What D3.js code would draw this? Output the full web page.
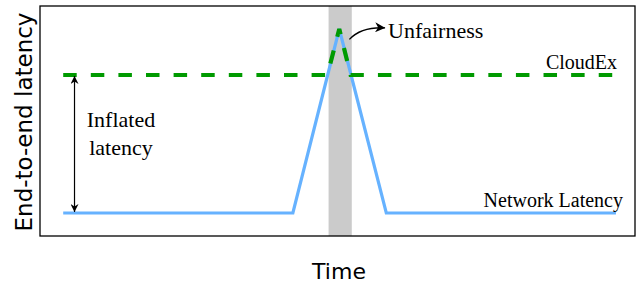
<!DOCTYPE html>
<html><head><meta charset="utf-8">
<script src="https://cdn.jsdelivr.net/npm/d3@7"></script>
<style>body{margin:0;background:#fff}svg{display:block}</style>
</head><body><svg id="c" width="639" height="285"></svg>
<script>
// Data (time units 0-100, latency units 0-100)
const networkTime = [3.9, 42.5, 50.3, 58.2, 96.8];
const networkLatency = [10, 10, 90, 10, 10];
const cloudexTime = [3.9, 48.3, 50.3, 52.2, 96.3];
const cloudexLatency = [70, 70, 90, 70, 70];
const unfairWindow = [48.5, 52.4];
const labels = {y: "End-to-end latency", x: "Time"};

const svg = d3.select("#c");
const x = d3.scaleLinear().domain([0, 100]).range([40, 635]);
const y = d3.scaleLinear().domain([0, 100]).range([236, 6]);

const defs = svg.append("defs");
defs.append("marker").attr("id","ah").attr("viewBox","0 0 10 10").attr("refX",10).attr("refY",5)
  .attr("markerWidth",8).attr("markerHeight",8).attr("markerUnits","userSpaceOnUse").attr("orient","auto-start-reverse")
  .append("path").attr("d","M0,0 L10,5 L0,10 L3,5 Z").attr("fill","#000");
defs.append("marker").attr("id","ah2").attr("viewBox","0 0 10 10").attr("refX",10).attr("refY",5)
  .attr("markerWidth",10).attr("markerHeight",10).attr("markerUnits","userSpaceOnUse").attr("orient","auto")
  .append("path").attr("d","M0,0 L10,5 L0,10 L3,5 Z").attr("fill","#000");

svg.append("rect").attr("x", x(unfairWindow[0])).attr("y", y(100))
  .attr("width", x(unfairWindow[1]) - x(unfairWindow[0])).attr("height", y(0) - y(100))
  .attr("fill", "#cbcbcb");

const line = d3.line().x(d => x(d[0])).y(d => y(d[1]));

svg.append("path").datum(networkTime.map((t,i)=>[t, networkLatency[i]]))
  .attr("d", line).attr("fill","none").attr("stroke","#66b2ff").attr("stroke-width",3.2)
  .attr("stroke-linejoin","miter");

svg.append("path").datum(cloudexTime.map((t,i)=>[t, cloudexLatency[i]]))
  .attr("d", line).attr("fill","none").attr("stroke","#009a00").attr("stroke-width",4.2)
  .attr("stroke-dasharray","13.5,14.1").attr("stroke-linejoin","miter");

svg.append("rect").attr("x", x(0)).attr("y", y(100)).attr("width", x(100)-x(0)).attr("height", y(0)-y(100))
  .attr("fill","none").attr("stroke","#000").attr("stroke-width",1.3);

svg.append("line").attr("x1", x(5.8)).attr("x2", x(5.8)).attr("y1", y(70)+1).attr("y2", y(10)-1)
  .attr("stroke","#000").attr("stroke-width",1.2)
  .attr("marker-start","url(#ah)").attr("marker-end","url(#ah)");

svg.append("path").attr("d", `M${x(52.0)},${y(85.5)} Q${x(54)},${y(91)} ${x(58.0)},${y(90.5)}`)
  .attr("fill","none").attr("stroke","#000").attr("stroke-width",1.3).attr("marker-end","url(#ah2)");

const serif = "'Liberation Serif','Times New Roman',serif";
svg.append("text").attr("x", 388).attr("y", 38).attr("font-family", serif).attr("font-size", 22).text("Unfairness");
svg.append("text").attr("x", 617).attr("y", 69).attr("text-anchor","end").attr("font-family", serif).attr("font-size", 20).text("CloudEx");
svg.append("text").attr("x", 623).attr("y", 207).attr("text-anchor","end").attr("font-family", serif).attr("font-size", 20).text("Network Latency");
svg.append("text").attr("x", 121).attr("y", 127).attr("text-anchor","middle").attr("font-family", serif).attr("font-size", 22).text("Inflated");
svg.append("text").attr("x", 121).attr("y", 155).attr("text-anchor","middle").attr("font-family", serif).attr("font-size", 22).text("latency");

const sans = "'DejaVu Sans',sans-serif";
svg.append("text").attr("transform","translate(32,122) rotate(-90)").attr("text-anchor","middle")
  .attr("font-family", sans).attr("font-size", 23).text(labels.y);
svg.append("text").attr("x", 339).attr("y", 279).attr("text-anchor","middle")
  .attr("font-family", sans).attr("font-size", 22).text(labels.x);
</script></body></html>
